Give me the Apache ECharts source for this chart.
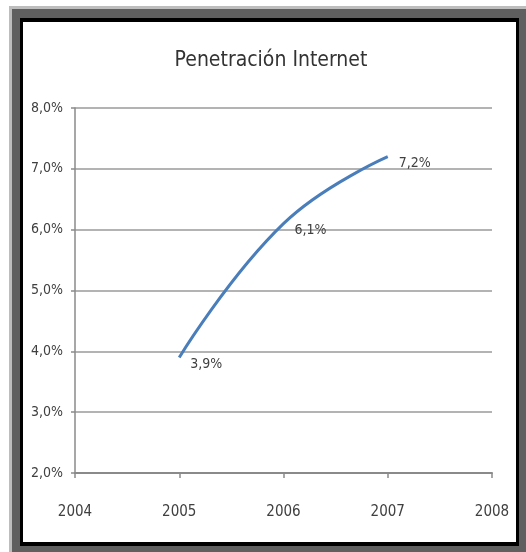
<!DOCTYPE html>
<html>
<head>
<meta charset="utf-8">
<script src="https://cdn.jsdelivr.net/npm/echarts@6/dist/echarts.min.js"></script>
<style>
  html, body { margin: 0; padding: 0; background: #ffffff; }
  #chart { width: 526px; height: 552px; }
</style>
</head>
<body>
<div id="chart"></div>
<script>
const titleText = 'Penetración Internet';
const years = [2005, 2006, 2007];
const penetration = [3.9, 6.1, 7.2];
const xMin = 2004, xMax = 2008, xStep = 1;
const yMin = 2, yMax = 8, yStep = 1;

const FONT = "'Liberation Sans Narrow', 'DejaVu Sans Condensed', 'Arial Narrow', sans-serif";
const fmt = v => v.toFixed(1).replace('.', ',') + '%';

const chart = echarts.init(document.getElementById('chart'), null, { renderer: 'canvas' });

chart.setOption({
  backgroundColor: '#ffffff',
  animation: false,
  title: {
    text: titleText,
    left: 266,
    top: 45,
    textAlign: 'center',
    textStyle: { fontFamily: FONT, fontSize: 21, fontWeight: 'normal', color: '#333333' }
  },
  graphic: [
    { type: 'rect', z: -10, shape: { x: 9, y: 6, width: 517, height: 546 }, style: { fill: '#bdbdbd' } },
    { type: 'rect', z: -9, shape: { x: 12, y: 9, width: 514, height: 543 }, style: { fill: '#5f5f5f' } },
    { type: 'rect', z: -8, shape: { x: 20, y: 18, width: 499, height: 528 }, style: { fill: '#000000' } },
    { type: 'rect', z: -7, shape: { x: 23, y: 22, width: 493, height: 520 }, style: { fill: '#ffffff' } }
  ],
  grid: { left: 75, right: 34, top: 108, bottom: 79, containLabel: false },
  xAxis: {
    type: 'value',
    min: xMin, max: xMax, interval: xStep,
    axisLine: { show: true, lineStyle: { color: '#8a8a8a', width: 2 } },
    axisTick: { show: true, length: 5, lineStyle: { color: '#8a8a8a', width: 1.5 } },
    splitLine: { show: false },
    axisLabel: {
      margin: 32,
      fontFamily: FONT, fontSize: 15, color: '#404040',
      formatter: v => String(v)
    }
  },
  yAxis: {
    type: 'value',
    min: yMin, max: yMax, interval: yStep,
    axisLine: { show: true, lineStyle: { color: '#8a8a8a', width: 1.5 } },
    axisTick: { show: true, length: 4, lineStyle: { color: '#8a8a8a', width: 1.5 } },
    splitLine: { show: true, lineStyle: { color: '#9a9a9a', width: 1.5 } },
    axisLabel: {
      margin: 12,
      fontFamily: FONT, fontSize: 14, color: '#404040',
      formatter: v => fmt(v)
    }
  },
  series: [{
    type: 'line',
    data: years.map((y, i) => [y, penetration[i]]),
    smooth: 0.45,
    showSymbol: true,
    symbol: 'circle',
    symbolSize: 2,
    itemStyle: { color: 'rgba(74,126,187,0)', borderWidth: 0 },
    lineStyle: { color: '#4a7ebb', width: 3 },
    label: {
      show: true,
      position: 'right',
      distance: 10,
      offset: [0, 7],
      fontFamily: FONT, fontSize: 14, color: '#404040', opacity: 1,
      formatter: p => fmt(p.value[1])
    }
  }]
});
</script>
</body>
</html>
